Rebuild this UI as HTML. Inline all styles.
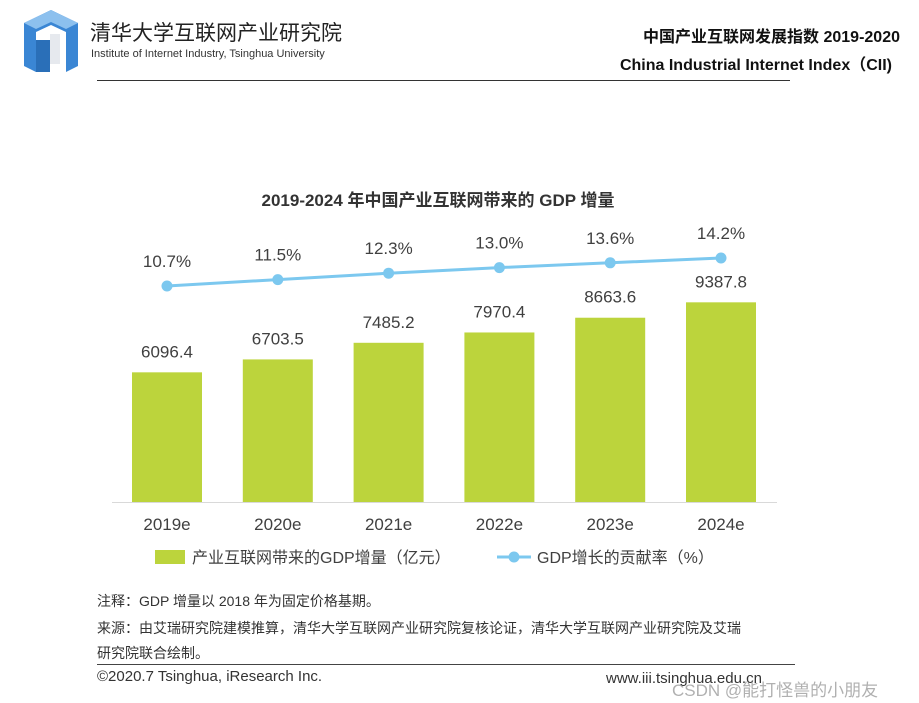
<!DOCTYPE html>
<html><head><meta charset="utf-8"><style>
body{margin:0;width:919px;height:703px;background:#fff;position:relative;overflow:hidden;font-family:"Liberation Sans","Noto Sans CJK SC",sans-serif;}
.a{position:absolute;white-space:nowrap;}
</style></head><body>
<svg class="a" style="left:22px;top:10px" width="58" height="62" viewBox="0 0 58 62">
<polygon points="29,0 56,13 56,56 44,62 44,22 29,15 14,22 14,62 2,56 2,13" fill="#3a86d4"/>
<polygon points="29,0 56,13 44,19 29,12 14,19 2,13" fill="#8cc0ee"/>
<rect x="14" y="30" width="14" height="32" fill="#2a6fb8"/>
<rect x="28" y="24" width="10" height="30" fill="#e6e9ee"/>
</svg>
<div class="a" style="left:90px;top:17px;font-size:21px;color:#222">清华大学互联网产业研究院</div>
<div class="a" style="left:91px;top:48px;font-size:11px;color:#333">Institute of Internet Industry, Tsinghua University</div>
<div class="a" style="right:19px;top:23px;font-size:16px;font-weight:bold;color:#111">中国产业互联网发展指数 2019-2020</div>
<div class="a" style="right:27px;top:51px;font-size:16px;font-weight:bold;color:#111">China Industrial Internet Index（CII)</div>
<div class="a" style="left:97px;top:80px;width:693px;height:1px;background:#333"></div>
<div class="a" style="left:0;width:876px;text-align:center;top:186px;font-size:17px;font-weight:bold;color:#333">2019-2024 年中国产业互联网带来的 GDP 增量</div>
<svg id="chart" class="a" style="left:0;top:0" width="919" height="703"></svg>
<div class="a" style="left:97px;top:591px;font-size:14px;color:#333">注释：GDP 增量以 2018 年为固定价格基期。</div>
<div class="a" style="left:97px;top:618px;font-size:14px;color:#333">来源：由艾瑞研究院建模推算，清华大学互联网产业研究院复核论证，清华大学互联网产业研究院及艾瑞</div>
<div class="a" style="left:97px;top:643px;font-size:14px;color:#333">研究院联合绘制。</div>
<div class="a" style="left:97px;top:664px;width:698px;height:1px;background:#444"></div>
<div class="a" style="left:97px;top:668px;font-size:15px;color:#333">©2020.7 Tsinghua, iResearch Inc.</div>
<div class="a" style="left:606px;top:670px;font-size:15px;color:#333">www.iii.tsinghua.edu.cn</div>
<div class="a" style="left:672px;top:676px;font-size:17px;color:rgba(150,150,150,0.75)">CSDN @能打怪兽的小朋友</div>
<script>
const categories=["2019e","2020e","2021e","2022e","2023e","2024e"];
const gdpValues=[6096.4,6703.5,7485.2,7970.4,8663.6,9387.8];
const rateValues=[10.7,11.5,12.3,13.0,13.6,14.2];
const NS="http://www.w3.org/2000/svg";
const svg=document.getElementById('chart');
const xS=i=>167+i*110.8;
const yBar=v=>502-v*0.02127;
const yLine=v=>286-(v-10.7)*8;
function mk(t,a,txt){const e=document.createElementNS(NS,t);for(const k in a)e.setAttribute(k,a[k]);if(txt!=null)e.textContent=txt;svg.appendChild(e);return e;}
const ax=mk('line',{x1:112,x2:777,y1:502.5,y2:502.5,stroke:'#d9d9d9','stroke-width':1});


gdpValues.forEach((v,i)=>{
 const r=mk('rect',{x:xS(i)-35,y:yBar(v),width:70,height:502-yBar(v),fill:'#bcd43c'});
 
 
 const t=mk('text',{x:xS(i),y:yBar(v)-15,'text-anchor':'middle','font-size':17,fill:'#404040'},v.toFixed(1));
 
 
 const c=mk('text',{x:xS(i),y:530,'text-anchor':'middle','font-size':17,fill:'#404040'},categories[i]);
 
 
});
const pts=rateValues.map((v,i)=>xS(i)+','+yLine(v)).join(' ');
const pl=mk('polyline',{points:pts,fill:'none',stroke:'#7cc8ef','stroke-width':3});


rateValues.forEach((v,i)=>{
 const c=mk('circle',{cx:xS(i),cy:yLine(v),r:5.5,fill:'#7cc8ef'});
 
 
 const t=mk('text',{x:xS(i),y:yLine(v)-19,'text-anchor':'middle','font-size':17,fill:'#404040'},v.toFixed(1)+'%');
 
 
});
const lb=mk('rect',{x:155,y:550,width:30,height:14,fill:'#bcd43c'});


const lt=mk('text',{x:192,y:563,'font-size':16,fill:'#404040'},'产业互联网带来的GDP增量（亿元）');


const ll=mk('line',{x1:497,x2:531,y1:557,y2:557,stroke:'#7cc8ef','stroke-width':3});


const lc=mk('circle',{cx:514,cy:557,r:5.5,fill:'#7cc8ef'});


const lt2=mk('text',{x:537,y:563,'font-size':16,fill:'#404040'},'GDP增长的贡献率（%）');


</script>
</body></html>
